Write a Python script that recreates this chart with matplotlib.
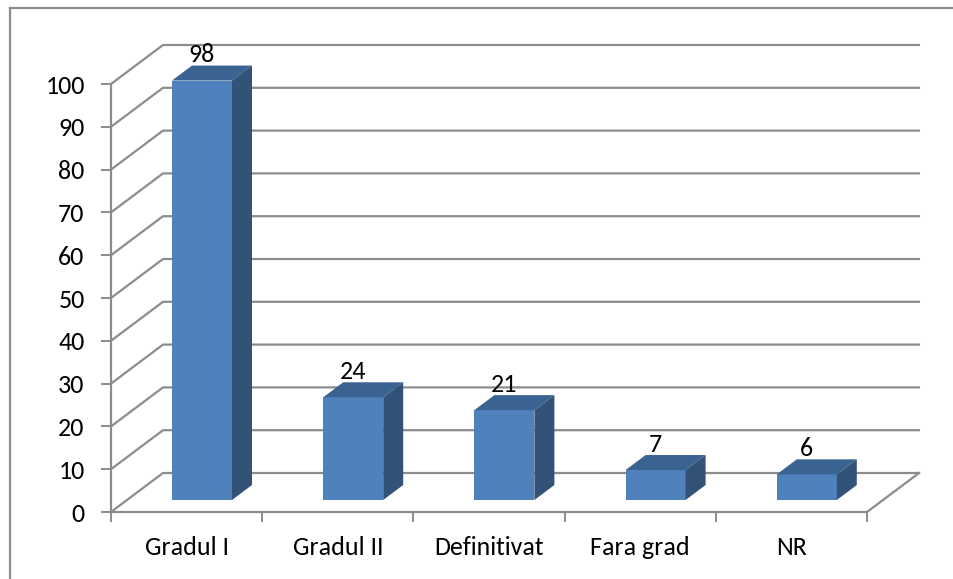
"""3D-look column chart drawn on a plain 2D axes, depth faked with polygons."""
import matplotlib
matplotlib.use("Agg")
import matplotlib.pyplot as plt
from matplotlib.patches import Polygon

categories = ["Gradul I", "Gradul II", "Definitivat", "Fara grad", "NR"]
values = [98, 24, 21, 7, 6]
y_ticks = [0, 10, 20, 30, 40, 50, 60, 70, 80, 90, 100]

W, H = 954, 579
AX_L, AX_R, AX_B, AX_T = 111, 867, 512, 84  # front plane in pixels
GRID = "#8c8c8c"
FRONT, TOP, SIDE = "#4f81bd", "#3b6391", "#325278"

plt.rcParams["font.family"] = ["Carlito", "Lato", "DejaVu Sans"]
fig = plt.figure(figsize=(W / 100, H / 100), dpi=100)
ax = fig.add_axes([AX_L / W, 1 - AX_B / H, (AX_R - AX_L) / W, (AX_B - AX_T) / H])
ax.set_xlim(0, len(categories))
ax.set_ylim(0, 100)

# pixel depth converted to data units
px_x = len(categories) / (AX_R - AX_L)
px_y = 100 / (AX_B - AX_T)
floor_dx, floor_dy = 52 * px_x, 39 * px_y
bar_dx, bar_dy = 20 * px_x, 15 * px_y
bar_w = 60 * px_x

for v in y_ticks:
    ax.plot([0, floor_dx, len(categories) + floor_dx],
            [v, v + floor_dy, v + floor_dy],
            color=GRID, lw=1.6, clip_on=False, zorder=1)
ax.plot([len(categories), len(categories) + floor_dx], [0, floor_dy],
        color=GRID, lw=1.6, clip_on=False, zorder=1)

off_x = (floor_dx - bar_dx) / 2 - 0.6 * px_x
off_y = (floor_dy - bar_dy) / 2
for i, val in enumerate(values):
    x0 = i + 0.5 + off_x - bar_w / 2
    x1 = x0 + bar_w
    y0 = off_y
    y1 = off_y + val
    ax.bar(x0, val, width=bar_w, bottom=y0, align="edge", color=FRONT,
           clip_on=False, zorder=3)
    ax.add_patch(Polygon([(x0, y1), (x1, y1), (x1 + bar_dx, y1 + bar_dy), (x0 + bar_dx, y1 + bar_dy)],
                         color=TOP, lw=0, clip_on=False, zorder=3))
    ax.add_patch(Polygon([(x1, y0), (x1 + bar_dx, y0 + bar_dy), (x1 + bar_dx, y1 + bar_dy), (x1, y1)],
                         color=SIDE, lw=0, clip_on=False, zorder=3))
    ax.text((x0 + x1) / 2, y1 + bar_dy + 0.8, str(val), ha="center", va="baseline",
            fontsize=18.7, color="black", zorder=4, clip_on=False)

for side in ("top", "right"):
    ax.spines[side].set_visible(False)
for side in ("left", "bottom"):
    ax.spines[side].set_color(GRID)
    ax.spines[side].set_linewidth(1.6)

ax.set_yticks(y_ticks)
ax.set_xticks(range(len(categories) + 1))
ax.set_xticklabels([])
ax.set_xticks([i + 0.5 for i in range(len(categories))], categories, minor=True)
ax.tick_params(axis="x", which="major", length=7, width=1.4, color=GRID)
ax.tick_params(axis="x", which="minor", length=0, pad=17, labelsize=18.7)
ax.tick_params(axis="y", length=7, width=1.4, color=GRID, pad=12, labelsize=18.7)

# chart frame, only top and left fall inside the crop
fig.add_artist(plt.Line2D([10 / W, 10 / W], [0, 1 - 8 / H], color=GRID, lw=1.6))
fig.add_artist(plt.Line2D([10 / W, 1], [1 - 8 / H, 1 - 8 / H], color=GRID, lw=1.6))

fig.savefig("out.png", dpi=100)
